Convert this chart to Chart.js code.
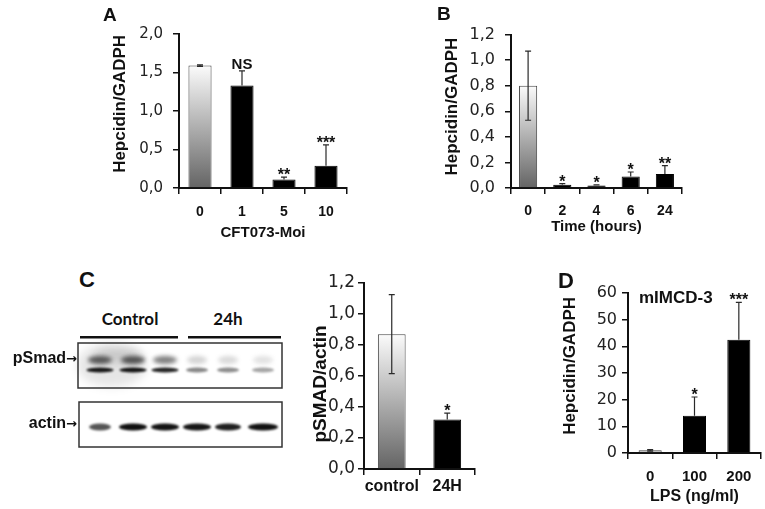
<!DOCTYPE html>
<html>
<head>
<meta charset="utf-8">
<script src="https://cdn.jsdelivr.net/npm/chart.js@4.4.1/dist/chart.umd.min.js"></script>
<style>
  body { margin: 0; background: #fff; width: 765px; height: 509px; position: relative; overflow: hidden;
         font-family: "Liberation Sans", Arial, sans-serif; color: #111; }
  .box { position: absolute; }
  .lbl { position: absolute; font-weight: bold; line-height: 1; white-space: nowrap; }
  .arr { font-family: "DejaVu Sans"; font-size: 13px; font-weight: bold; }
</style>
</head>
<body>
<div class="box" style="left:100px;top:15px;width:255px;height:227px"><canvas id="chartA"></canvas></div>
<div class="box" style="left:430px;top:15px;width:260px;height:221px"><canvas id="chartB"></canvas></div>
<div class="box" style="left:300px;top:265px;width:180px;height:239px"><canvas id="chartC"></canvas></div>
<div class="box" style="left:545px;top:278px;width:219px;height:228px"><canvas id="chartD"></canvas></div>
<canvas id="blot" width="220" height="125" style="position:absolute;left:70px;top:330px"></canvas>

<div class="lbl" style="left:103px;top:5px;font-size:19px">A</div>
<div class="lbl" style="left:437px;top:4px;font-size:19px">B</div>
<div class="lbl" style="left:79px;top:269px;font-size:22px">C</div>
<div class="lbl" style="left:558px;top:270px;font-size:22px">D</div>
<div class="lbl" style="left:639px;top:289px;font-size:17px">mIMCD-3</div>
<div class="lbl" style="left:90px;top:310px;width:80px;text-align:center;font-family:Lato;font-size:17px">Control</div>
<div class="lbl" style="left:198px;top:310px;width:60px;text-align:center;font-family:Lato;font-size:17px">24h</div>
<div class="lbl" style="left:0;top:350px;width:77px;text-align:right;font-size:16px">pSmad<span class="arr">→</span></div>
<div class="lbl" style="left:0;top:415px;width:77px;text-align:right;font-size:16px">actin<span class="arr">→</span></div>

<script>
// panel A - CFT073 infection
const catsA = ['0', '1', '5', '10'];
const valsA = [1.59, 1.33, 0.11, 0.29];
const errsA = [0.01, 0.19, 0.03, 0.27];
const marksA = ['', 'NS', '**', '***'];

// panel B - time course
const catsB = ['0', '2', '4', '6', '24'];
const valsB = [0.80, 0.025, 0.02, 0.09, 0.11];
const errsB = [0.27, 0.01, 0.005, 0.035, 0.065];
const marksB = ['', '*', '*', '*', '**'];

// panel C - pSMAD quantification
const catsC = ['control', '24H'];
const valsC = [0.87, 0.32];
const errsC = [0.255, 0.04];
const marksC = ['', '*'];

// panel D - LPS in mIMCD-3
const catsD = ['0', '100', '200'];
const valsD = [1.0, 14, 42.5];
const errsD = [0.3, 7, 14];
const marksD = ['', '*', '***'];

const INK = '#111';
const SANS = '"Liberation Sans", Arial, sans-serif';

function grayFill(c) {
  const chart = c.chart;
  if (c.dataIndex !== 0) return '#000';
  if (!chart.chartArea) return '#aaa';
  const y = chart.scales.y;
  const top = y.getPixelForValue(c.raw), bot = y.getPixelForValue(0);
  if (!isFinite(top) || bot - top < 1) return '#999';
  const g = chart.ctx.createLinearGradient(0, top, 0, bot);
  g.addColorStop(0, '#fbfbfb');
  g.addColorStop(1, '#646464');
  return g;
}

function errorPlugin(errs, marks) {
  return {
    id: 'errorBars',
    afterDatasetsDraw(chart) {
      const { ctx, scales: { y } } = chart;
      const vals = chart.data.datasets[0].data;
      ctx.save();
      chart.getDatasetMeta(0).data.forEach((bar, i) => {
        const yTop = y.getPixelForValue(vals[i] + errs[i]);
        // lower whisker only shows on the light control bar
        const yBot = i === 0 ? y.getPixelForValue(vals[i] - errs[i]) : y.getPixelForValue(vals[i]);
        ctx.strokeStyle = '#2a2a2a';
        ctx.lineWidth = 1.2;
        ctx.beginPath();
        ctx.moveTo(bar.x, yTop); ctx.lineTo(bar.x, yBot);
        ctx.moveTo(bar.x - 3, yTop); ctx.lineTo(bar.x + 3, yTop);
        if (i === 0) { ctx.moveTo(bar.x - 3, yBot); ctx.lineTo(bar.x + 3, yBot); }
        ctx.stroke();
        const m = marks[i];
        if (m) {
          ctx.fillStyle = INK;
          ctx.textAlign = 'center';
          ctx.textBaseline = 'alphabetic';
          if (m === 'NS') {
            ctx.font = 'bold 15px ' + SANS;
            ctx.fillText(m, bar.x, yTop - 2);
          } else {
            ctx.font = 'bold 16px ' + SANS;
            ctx.fillText(m, bar.x, yTop + 3);
          }
        }
      });
      ctx.restore();
    }
  };
}

function buildChart(id, cats, vals, errs, marks, yMax, yStep, decimals, yTitle, xTitle, geo) {
  return new Chart(document.getElementById(id), {
    type: 'bar',
    data: {
      labels: cats,
      datasets: [{
        data: vals,
        backgroundColor: grayFill,
        borderColor: c => c.dataIndex === 0 ? '#444' : '#000',
        borderWidth: 1,
        barPercentage: geo.barPct,
        categoryPercentage: 1
      }]
    },
    options: {
      responsive: true,
      maintainAspectRatio: false,
      devicePixelRatio: 1,
      animation: false,
      layout: { padding: { top: geo.padTop, right: geo.padRight, left: 0, bottom: 0 } },
      plugins: { legend: { display: false }, tooltip: { enabled: false } },
      scales: {
        y: {
          min: 0, max: yMax,
          ticks: {
            stepSize: yStep, padding: geo.yTickPad, color: '#222',
            font: { family: '"DejaVu Sans"', size: geo.yTickSize },
            callback: v => decimals ? v.toFixed(decimals).replace('.', ',') : String(v)
          },
          grid: { drawOnChartArea: false, tickLength: 6, color: INK, lineWidth: 1.5 },
          border: { display: true, color: INK, width: 2 },
          title: {
            display: true, text: yTitle, color: INK,
            font: { family: SANS, size: geo.yTitleSize, weight: 'bold' },
            padding: { top: geo.yTitlePad, bottom: 0 }
          },
          afterFit: s => { s.width = geo.axisW; }
        },
        x: {
          ticks: {
            padding: geo.xTickPad, color: INK, maxRotation: 0, minRotation: 0, autoSkip: false,
            font: { family: SANS, size: geo.xTickSize, weight: 'bold' }
          },
          grid: { drawOnChartArea: false, tickLength: 6, color: INK, lineWidth: 1.5, offset: true },
          border: { display: true, color: INK, width: 2 },
          title: {
            display: !!xTitle, text: xTitle, color: INK,
            font: { family: SANS, size: geo.xTitleSize, weight: 'bold' },
            padding: { top: 0, bottom: 0 }
          },
          afterFit: s => { s.height = geo.xAxisH; }
        }
      }
    },
    plugins: [errorPlugin(errs, marks)]
  });
}

buildChart('chartA', catsA, valsA, errsA, marksA, 2, 0.5, 1, '   Hepcidin/GADPH', 'CFT073-Moi',
  { axisW: 79, padTop: 12, padRight: 8, xAxisH: 54, yTitlePad: 10, yTitleSize: 17, yTickSize: 15,
    yTickPad: 10, xTickSize: 14, xTickPad: 10, xTitleSize: 15, barPct: 0.55 });
buildChart('chartB', catsB, valsB, errsB, marksB, 1.2, 0.2, 1, '  Hepcidin/GADPH', 'Time (hours)',
  { axisW: 81, padTop: 13, padRight: 8, xAxisH: 48, yTitlePad: 12, yTitleSize: 17, yTickSize: 16,
    yTickPad: 10, xTickSize: 14, xTickPad: 9, xTitleSize: 15, barPct: 0.53 });
buildChart('chartC', catsC, valsC, errsC, marksC, 1.2, 0.2, 1, 'pSMAD/actin   ', '',
  { axisW: 64, padTop: 18, padRight: 5, xAxisH: 35, yTitlePad: 9, yTitleSize: 19, yTickSize: 17,
    yTickPad: 3, xTickSize: 16, xTickPad: 2, xTitleSize: 15, barPct: 0.5 });
buildChart('chartD', catsD, valsD, errsD, marksD, 60, 10, 0, '   Hepcidin/GADPH', 'LPS (ng/ml)',
  { axisW: 83, padTop: 15, padRight: 3, xAxisH: 53, yTitlePad: 15, yTitleSize: 17, yTickSize: 16,
    yTickPad: 5, xTickSize: 15, xTickPad: 9, xTitleSize: 16, barPct: 0.52 });

// western blot picture (pSmad / actin)
const blot = document.getElementById('blot').getContext('2d');
const ox = 70, oy = 330;
const laneX = [100, 133, 165, 197, 228, 263];
const lowerInk = ['#161616', '#141414', '#262626', '#888', '#8e8e8e', '#a6a6a6'];
const upperInk = ['#555', '#505050', '#808080', '#d4d4d4', '#dadada', '#e2e2e2'];
const actinInk = ['#555', '#111', '#141414', '#161616', '#202020', '#121212'];
const actinW = [22, 28, 28, 28, 26, 30];

function blob(cx, cy, w, h, color, blur) {
  blot.save();
  blot.filter = 'blur(' + blur + 'px)';
  blot.fillStyle = color;
  blot.beginPath();
  blot.ellipse(cx - ox, cy - oy, w / 2, h / 2, 0, 0, Math.PI * 2);
  blot.fill();
  blot.restore();
}

// smeared background in first control lanes
blob(112, 365, 70, 44, 'rgba(0,0,0,0.10)', 5);
blob(118, 356, 50, 16, 'rgba(0,0,0,0.12)', 4);
laneX.forEach((x, i) => {
  blob(x, 360, i < 3 ? 24 : 20, 8, upperInk[i], 2.2);
  blob(x, 370, i < 3 ? 27 : 22, 5, lowerInk[i], 1.2);
  blob(x, 427, actinW[i], 7, actinInk[i], 1.2);
});
blot.strokeStyle = '#333';
blot.lineWidth = 1.5;
blot.strokeRect(78 - ox, 343 - oy, 204, 45);
blot.strokeRect(79 - ox, 402 - oy, 203, 45);
blot.fillStyle = '#111';
blot.fillRect(80 - ox, 336 - oy, 98, 2.5);
blot.fillRect(188 - ox, 336 - oy, 93, 2.5);
</script>
</body>
</html>
